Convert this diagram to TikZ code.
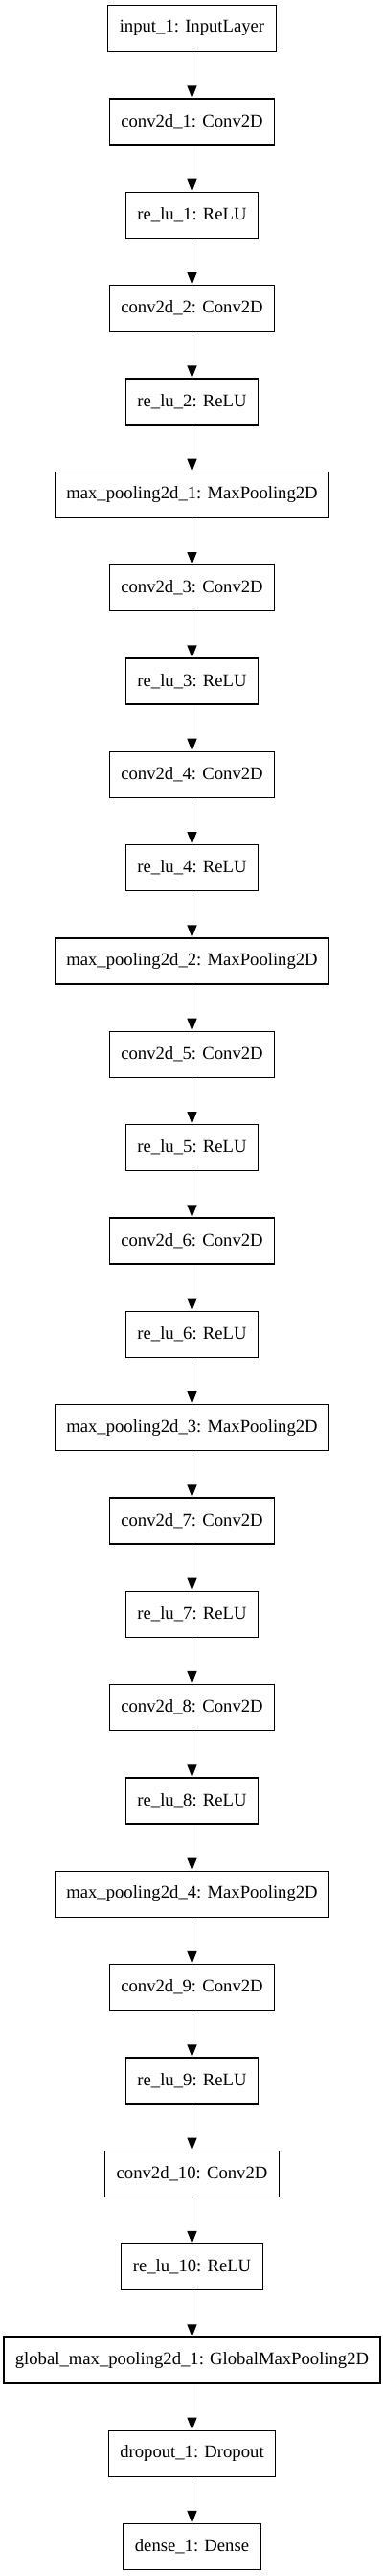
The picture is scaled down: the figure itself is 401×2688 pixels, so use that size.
\documentclass[tikz,border=0pt]{standalone}
\usepackage{fontspec}
\setmainfont{Liberation Serif}
\usepackage{tikz}
\usetikzlibrary{positioning, arrows.meta}

\begin{document}
\begin{tikzpicture}[
  x=1pt, y=1pt,
  node distance=48pt,
  layer/.style={draw, line width=1.33pt, rectangle, minimum height=48pt, inner xsep=12pt,
    font=\fontsize{18.67}{22}\selectfont},
  flow/.style={-{Triangle[length=13pt, width=10pt]}, line width=1.33pt}
]
\useasboundingbox (0,0) rectangle (401,-2688);
\node[layer] (in) at (200.5,-29.7) {input\_1: InputLayer};
\node[layer, below=of in] (c1) {conv2d\_1: Conv2D};
\node[layer, below=of c1] (r1) {re\_lu\_1: ReLU};
\node[layer, below=of r1] (c2) {conv2d\_2: Conv2D};
\node[layer, below=of c2] (r2) {re\_lu\_2: ReLU};
\node[layer, below=of r2] (p1) {max\_pooling2d\_1: MaxPooling2D};
\node[layer, below=of p1] (c3) {conv2d\_3: Conv2D};
\node[layer, below=of c3] (r3) {re\_lu\_3: ReLU};
\node[layer, below=of r3] (c4) {conv2d\_4: Conv2D};
\node[layer, below=of c4] (r4) {re\_lu\_4: ReLU};
\node[layer, below=of r4] (p2) {max\_pooling2d\_2: MaxPooling2D};
\node[layer, below=of p2] (c5) {conv2d\_5: Conv2D};
\node[layer, below=of c5] (r5) {re\_lu\_5: ReLU};
\node[layer, below=of r5] (c6) {conv2d\_6: Conv2D};
\node[layer, below=of c6] (r6) {re\_lu\_6: ReLU};
\node[layer, below=of r6] (p3) {max\_pooling2d\_3: MaxPooling2D};
\node[layer, below=of p3] (c7) {conv2d\_7: Conv2D};
\node[layer, below=of c7] (r7) {re\_lu\_7: ReLU};
\node[layer, below=of r7] (c8) {conv2d\_8: Conv2D};
\node[layer, below=of c8] (r8) {re\_lu\_8: ReLU};
\node[layer, below=of r8] (p4) {max\_pooling2d\_4: MaxPooling2D};
\node[layer, below=of p4] (c9) {conv2d\_9: Conv2D};
\node[layer, below=of c9] (r9) {re\_lu\_9: ReLU};
\node[layer, below=of r9] (c10) {conv2d\_10: Conv2D};
\node[layer, below=of c10] (r10) {re\_lu\_10: ReLU};
\node[layer, below=of r10] (gp) {global\_max\_pooling2d\_1: GlobalMaxPooling2D};
\node[layer, below=of gp] (do) {dropout\_1: Dropout};
\node[layer, below=of do] (de) {dense\_1: Dense};

\path[flow] (in) edge (c1) (c1) edge (r1) (r1) edge (c2) (c2) edge (r2)
  (r2) edge (p1) (p1) edge (c3) (c3) edge (r3) (r3) edge (c4) (c4) edge (r4)
  (r4) edge (p2) (p2) edge (c5) (c5) edge (r5) (r5) edge (c6) (c6) edge (r6)
  (r6) edge (p3) (p3) edge (c7) (c7) edge (r7) (r7) edge (c8) (c8) edge (r8)
  (r8) edge (p4) (p4) edge (c9) (c9) edge (r9) (r9) edge (c10) (c10) edge (r10)
  (r10) edge (gp) (gp) edge (do) (do) edge (de);
\end{tikzpicture}
\end{document}
